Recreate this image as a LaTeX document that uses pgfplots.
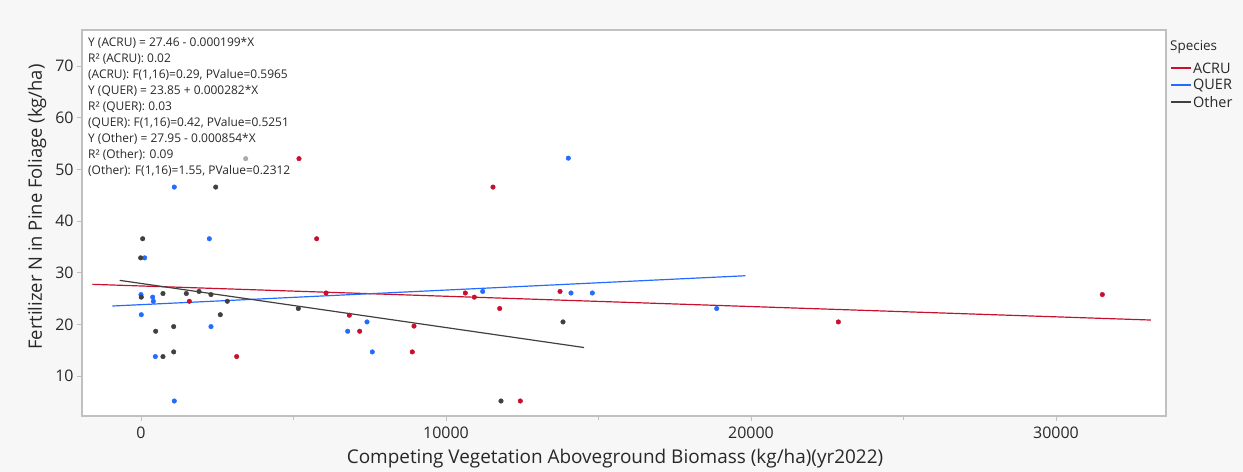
\documentclass[border=0pt]{standalone}
\usepackage{fontspec}
\setmainfont{Open Sans}
\usepackage{pgfplots}
\pgfplotsset{compat=1.18}
\definecolor{bgc}{RGB}{247,247,247}
\definecolor{framec}{RGB}{192,192,192}
\definecolor{acru}{RGB}{200,16,46}
\definecolor{quer}{RGB}{36,107,255}
\definecolor{oth}{RGB}{64,64,64}
\definecolor{lgray}{RGB}{170,170,170}
\definecolor{txt}{RGB}{40,40,40}
\begin{document}
\begin{tikzpicture}[x=1bp,y=1bp]
\fill[bgc] (0,0) rectangle (1243,472);
\begin{axis}[
  at={(82bp,56bp)}, anchor=south west,
  scale only axis, width=1084bp, height=386bp,
  xmin=-1934, xmax=33607, ymin=2.3, ymax=77,
  axis background/.style={fill=white},
  axis line style={framec, line width=1.2pt},
  xtick pos=bottom, ytick pos=left,
  xtick={0,10000,20000,30000},
  minor xtick={5000,15000,25000},
  ytick={10,20,30,40,50,60,70},
  scaled x ticks=false,
  tick align=outside,
  major tick length=5bp, minor tick length=4bp,
  tick style={framec, line width=0.8pt},
  /pgf/number format/1000 sep={},
  /pgf/number format/assume math mode=true,
  tick label style={font=\fontsize{16}{18}\selectfont, text=txt},
  xticklabel style={yshift=-2bp},
  xlabel={Competing Vegetation Aboveground Biomass (kg/ha)(yr2022)},
  ylabel={Fertilizer N in Pine Foliage (kg/ha)},
  xlabel style={font=\fontsize{19}{21}\selectfont, text=txt, yshift=-4bp, xshift=-9bp},
  ylabel style={font=\fontsize{18.5}{21}\selectfont, text=txt, yshift=2bp, xshift=16bp},
  clip=false,
]
% ACRU points
\addplot[only marks, mark=*, mark size=2.3bp, color=acru] coordinates {
(5180,52.1) (5760,36.6) (1585,24.5) (6066,26.1) (6830,21.8) (7170,18.7)
(8951,19.7) (8895,14.7) (3137,13.8) (11541,46.6) (10633,26.1) (10928,25.3)
(13738,26.4) (11761,23.1) (12436,5.2) (22863,20.5) (31518,25.8)
};
% QUER points
\addplot[only marks, mark=*, mark size=2.3bp, color=quer] coordinates {
(1092,46.6) (2240,36.6) (121,32.9) (0,25.8) (383,25.3) (405,24.5)
(10,21.9) (2295,19.6) (6776,18.7) (7410,20.5) (7584,14.7) (470,13.8)
(1092,5.2) (14010,52.2) (11203,26.4) (14098,26.1) (14797,26.1) (18875,23.1)
};
% Other points
\addplot[only marks, mark=*, mark size=2.3bp, color=oth] coordinates {
(2449,46.6) (55,36.6) (-10,32.9) (10,25.3) (721,26.0) (1486,26.0)
(1902,26.4) (2295,25.8) (2830,24.5) (2600,21.9) (5158,23.1) (482,18.7)
(1072,19.6) (721,13.8) (1072,14.7) (13836,20.5) (11803,5.2)
};
\addplot[only marks, mark=*, mark size=2.3bp, color=lgray] coordinates {
(3433,52.1)
};
% regression lines
\addplot[acru, line width=1.2pt] coordinates {(-1597,27.78) (33107,20.87)};
\addplot[quer, line width=1.2pt] coordinates {(-941,23.58) (19813,29.44)};
\addplot[oth, line width=1.2pt] coordinates {(-700,28.55) (14525,15.55)};
\end{axis}
% legend
\node[anchor=west, text=txt, font=\fontsize{13.5}{15}\selectfont, inner sep=0pt] at (1170,425) {Species};
\draw[acru, line width=1.2pt] (1171,404) -- (1191,404);
\draw[quer, line width=1.2pt] (1171,387) -- (1191,387);
\draw[oth, line width=1.2pt] (1171,370) -- (1191,370);
\begin{scope}[every node/.style={anchor=west, text=txt, font=\fontsize{14.5}{17}\selectfont, inner sep=0pt}]
\node at (1193,404) {ACRU};
\node at (1193,387) {QUER};
\node at (1193,370) {Other};
\end{scope}
\begin{scope}[every node/.style={anchor=west, text=txt, font=\fontsize{12}{14}\selectfont, inner sep=0pt}]
\node at (88,429) {Y (ACRU) = 27.46 - 0.000199*X};
\node at (88,413) {R² (ACRU): 0.02};
\node at (88,397) {(ACRU): F(1,16)=0.29, PValue=0.5965};
\node at (88,381) {Y (QUER) = 23.85 + 0.000282*X};
\node at (88,365) {R² (QUER): 0.03};
\node at (88,349) {(QUER): F(1,16)=0.42, PValue=0.5251};
\node at (88,333) {Y (Other) = 27.95 - 0.000854*X};
\node at (88,317) {R² (Other): 0.09};
\node at (88,301) {(Other): F(1,16)=1.55, PValue=0.2312};
\end{scope}
\pgfresetboundingbox
\path (0,0) rectangle (1243,472);
\end{tikzpicture}
\end{document}
